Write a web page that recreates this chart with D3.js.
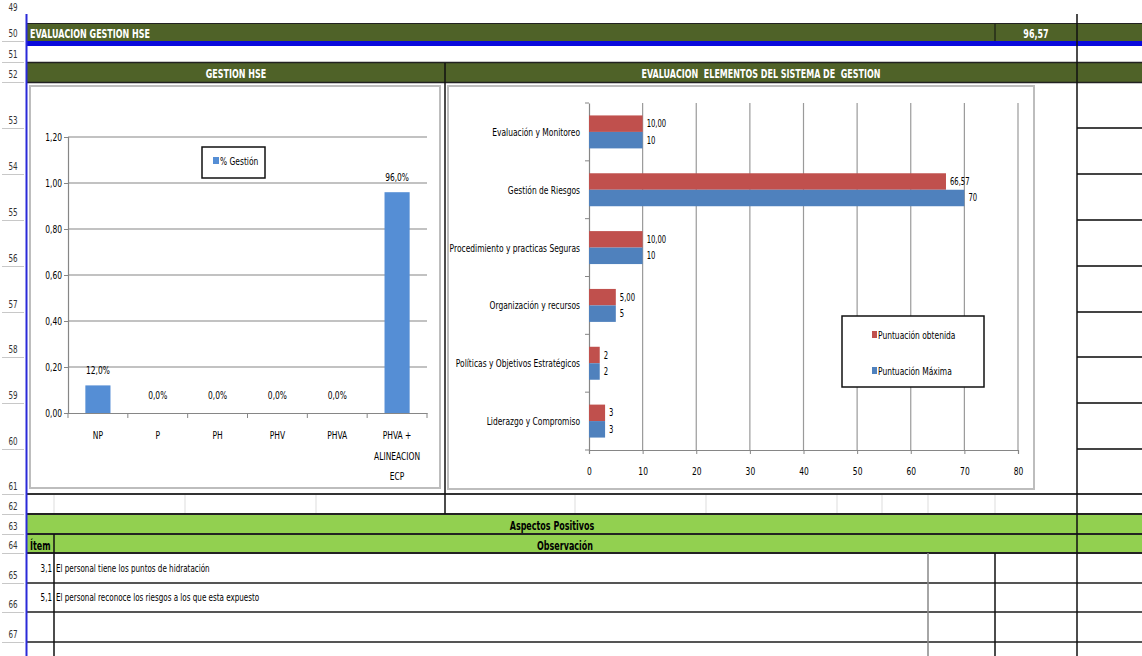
<!DOCTYPE html>
<html>
<head>
<meta charset="utf-8">
<script src="https://cdn.jsdelivr.net/npm/d3@7"></script>
<style>
  body { margin: 0; background: #fff; }
  svg text { font-family: "Liberation Sans Narrow", "DejaVu Sans Condensed", "Arial Narrow", sans-serif; white-space: pre; }
</style>
</head>
<body>
<svg id="sheet" width="1142" height="656"></svg>
<script>
// ---- data ----
var gestionCats = ["NP", "P", "PH", "PHV", "PHVA", "PHVA +\nALINEACION\nECP"];
var gestionPct = [0.12, 0, 0, 0, 0, 0.96];
var gestionTicks = [0, 0.2, 0.4, 0.6, 0.8, 1.0, 1.2];

var elemCats = ["Evaluación y Monitoreo", "Gestión de Riesgos", "Procedimiento y practicas Seguras",
  "Organización y recursos", "Políticas y Objetivos Estratégicos", "Liderazgo y Compromiso"];
var obtenida = [10, 66.57, 10, 5, 2, 3];
var obtenidaLbl = ["10,00", "66,57", "10,00", "5,00", "2", "3"];
var maxima = [10, 70, 10, 5, 2, 3];
var maximaLbl = ["10", "70", "10", "5", "2", "3"];
var elemTicks = [0, 10, 20, 30, 40, 50, 60, 70, 80];

var totalHSE = "96,57";
var itemNums = ["3,1", "5,1"];
var itemObs = ["El personal tiene los puntos de hidratación",
  "El personal reconoce los riesgos a los que esta expuesto"];

// ---- sheet layout ----
var rowNums = [49, 50, 51, 52, 53, 54, 55, 56, 57, 58, 59, 60, 61, 62, 63, 64, 65, 66, 67];
var rowBottoms = [15, 41, 62, 82, 128, 174, 220, 266, 312, 357, 403, 449, 494, 514, 534, 553, 583, 612, 642];

var darkGreen = "#4F6228", lightGreen = "#92D050";
var svg = d3.select("#sheet");

var comma = function(s){ return s.replace(".", ","); };

// squeeze text horizontally, the sheet font is a narrow one
var squeeze = function(sel, k){
  sel.each(function(){
    var spans = this.querySelectorAll("tspan");
    var nodes = spans.length ? Array.prototype.slice.call(spans) : [this];
    nodes.forEach(function(n){
      var w = n.getComputedTextLength();
      if (w > 0){
        n.setAttribute("textLength", w*k);
        n.setAttribute("lengthAdjust", "spacingAndGlyphs");
      }
    });
  });
};

// row headers
var rh = svg.append("g");
rh.selectAll("text").data(rowNums).enter().append("text")
  .attr("x", 13).attr("y", function(d,i){ return rowBottoms[i] - 4; })
  .attr("text-anchor", "middle").attr("font-size", 10.5).attr("fill", "#333")
  .text(function(d){ return d; });
rh.selectAll("line").data(rowBottoms.slice(1)).enter().append("line")
  .attr("x1", 2).attr("x2", 24).attr("y1", function(d){ return d + 0.5; }).attr("y2", function(d){ return d + 0.5; })
  .attr("stroke", "#c8c8c8");

// row 50 / row 52 bands
svg.append("rect").attr("x", 27).attr("y", 24).attr("width", 1115).attr("height", 17).attr("fill", darkGreen);
svg.append("line").attr("x1", 27).attr("x2", 1142).attr("y1", 23.5).attr("y2", 23.5).attr("stroke", "#222");
svg.append("rect").attr("x", 27).attr("y", 41).attr("width", 1115).attr("height", 5).attr("fill", "#0a0adc");
svg.append("line").attr("x1", 995).attr("x2", 995).attr("y1", 24).attr("y2", 41).attr("stroke", "#111");
svg.append("rect").attr("x", 27).attr("y", 63).attr("width", 1115).attr("height", 19).attr("fill", darkGreen);
svg.append("line").attr("x1", 27).attr("x2", 1142).attr("y1", 62.5).attr("y2", 62.5).attr("stroke", "#222").attr("stroke-width", 1.5);
svg.append("line").attr("x1", 27).attr("x2", 1142).attr("y1", 82.5).attr("y2", 82.5).attr("stroke", "#222").attr("stroke-width", 1.5);

var hdr = svg.append("g").attr("class", "hdr");
hdr.append("text").attr("x", 30).attr("y", 38).attr("fill", "#fff").attr("font-weight", "bold").attr("font-size", 13)
  .text("EVALUACION GESTION HSE");
hdr.append("text").attr("x", 1036).attr("y", 38).attr("fill", "#fff").attr("font-weight", "bold").attr("font-size", 13)
  .attr("text-anchor", "middle").text(totalHSE);
hdr.append("text").attr("x", 236).attr("y", 78).attr("fill", "#fff").attr("font-weight", "bold").attr("font-size", 13)
  .attr("text-anchor", "middle").text("GESTION HSE");
hdr.append("text").attr("x", 761).attr("y", 78).attr("fill", "#fff").attr("font-weight", "bold").attr("font-size", 13)
  .attr("text-anchor", "middle").text("EVALUACION  ELEMENTOS DEL SISTEMA DE  GESTION");

// right column row lines
svg.selectAll(".rline").data(rowBottoms.slice(4, 12)).enter().append("line")
  .attr("x1", 1077).attr("x2", 1142).attr("y1", function(d){ return d; }).attr("y2", function(d){ return d; })
  .attr("stroke", "#444").attr("stroke-width", 2);

// row 61/62 borders
svg.append("line").attr("x1", 27).attr("x2", 1142).attr("y1", 494).attr("y2", 494).attr("stroke", "#333").attr("stroke-width", 2);
svg.selectAll(".r62").data([54, 185, 316, 575, 706, 837, 882, 928, 995]).enter().append("line")
  .attr("x1", function(d){ return d; }).attr("x2", function(d){ return d; }).attr("y1", 495).attr("y2", 514)
  .attr("stroke", "#ddd");

// rows 63, 64
svg.append("rect").attr("x", 27).attr("y", 514).attr("width", 1115).attr("height", 39).attr("fill", lightGreen);
[514, 534, 553].forEach(function(y){
  svg.append("line").attr("x1", 27).attr("x2", 1142).attr("y1", y).attr("y2", y).attr("stroke", "#222").attr("stroke-width", 2);
});
var hdr2 = svg.append("g").attr("class", "hdr");
hdr2.append("text").attr("x", 552).attr("y", 530).attr("font-weight", "bold").attr("font-size", 13)
  .attr("text-anchor", "middle").text("Aspectos Positivos");
hdr2.append("text").attr("x", 30).attr("y", 550).attr("font-weight", "bold").attr("font-size", 13).text("Ítem");
hdr2.append("text").attr("x", 565).attr("y", 550).attr("font-weight", "bold").attr("font-size", 13)
  .attr("text-anchor", "middle").text("Observación");

// rows 65-67
[583, 612, 642].forEach(function(y){
  svg.append("line").attr("x1", 27).attr("x2", 1142).attr("y1", y).attr("y2", y).attr("stroke", "#555").attr("stroke-width", 2);
});
svg.append("line").attr("x1", 54).attr("x2", 54).attr("y1", 534).attr("y2", 656).attr("stroke", "#111").attr("stroke-width", 1.5);
svg.append("line").attr("x1", 928).attr("x2", 928).attr("y1", 553).attr("y2", 656).attr("stroke", "#888").attr("stroke-width", 1.5);
svg.append("line").attr("x1", 995).attr("x2", 995).attr("y1", 553).attr("y2", 656).attr("stroke", "#111").attr("stroke-width", 1.5);
var items = svg.append("g");
items.selectAll(".num").data(itemNums).enter().append("text")
  .attr("x", 52).attr("y", function(d,i){ return 572 + i*29; }).attr("text-anchor", "end").attr("font-size", 10.5)
  .text(function(d){ return d; });
items.selectAll(".obs").data(itemObs).enter().append("text")
  .attr("x", 56).attr("y", function(d,i){ return 572 + i*29; }).attr("font-size", 10.5)
  .text(function(d){ return d; });

// main vertical lines
svg.append("line").attr("x1", 1077).attr("x2", 1077).attr("y1", 14).attr("y2", 656).attr("stroke", "#111").attr("stroke-width", 1.5);
svg.append("line").attr("x1", 445).attr("x2", 445).attr("y1", 63).attr("y2", 514).attr("stroke", "#111").attr("stroke-width", 1.5);
svg.append("line").attr("x1", 26.5).attr("x2", 26.5).attr("y1", 14).attr("y2", 656).attr("stroke", "#2a2ad8").attr("stroke-width", 2);

// ---- chart 1: GESTION HSE ----
var c1 = svg.append("g");
c1.append("rect").attr("x", 30).attr("y", 86).attr("width", 410).attr("height", 402)
  .attr("fill", "#fff").attr("stroke", "#bdbdbd").attr("stroke-width", 2);

var x1 = d3.scaleBand().domain(gestionCats).range([68, 427]).paddingInner(0.58).paddingOuter(0.29);
var y1 = d3.scaleLinear().domain([0, 1.2]).range([413, 137]);

c1.selectAll(".grid").data(gestionTicks.slice(1)).enter().append("line")
  .attr("x1", 68).attr("x2", 427).attr("y1", function(d){ return y1(d); }).attr("y2", function(d){ return y1(d); })
  .attr("stroke", "#868686").attr("stroke-width", 1.2);

var yAxis1 = c1.append("g").attr("transform", "translate(68,0)")
  .call(d3.axisLeft(y1).tickValues(gestionTicks).tickSize(4).tickFormat(function(d){ return comma(d3.format(".2f")(d)); }));
var xAxis1 = c1.append("g").attr("transform", "translate(0,413)")
  .call(d3.axisBottom(x1).tickSize(0).tickFormat(""));
[yAxis1, xAxis1].forEach(function(a){
  a.select(".domain").attr("stroke", "#868686").attr("stroke-width", 1.2);
  a.selectAll(".tick line").attr("stroke", "#868686");
  a.selectAll("text").attr("font-size", 11).attr("fill", "#000")
    .style("font-family", "'Liberation Sans Narrow', 'DejaVu Sans Condensed', sans-serif");
});
yAxis1.selectAll(".tick text").attr("x", -6);

// category boundary ticks
c1.selectAll(".ctick").data(d3.range(gestionCats.length + 1)).enter().append("line")
  .attr("x1", function(i){ return 68 + i*x1.step(); }).attr("x2", function(i){ return 68 + i*x1.step(); })
  .attr("y1", 413).attr("y2", 418).attr("stroke", "#868686");

c1.selectAll(".clbl").data(gestionCats).enter().append("text")
  .attr("x", function(d){ return x1(d) + x1.bandwidth()/2; }).attr("y", 439)
  .attr("text-anchor", "middle").attr("font-size", 11)
  .each(function(d){
    var t = d3.select(this);
    d.split("\n").forEach(function(s, k){
      t.append("tspan").attr("x", t.attr("x")).attr("dy", k ? 20.5 : 0).text(s);
    });
  });

c1.selectAll(".bar").data(gestionPct).enter().append("rect")
  .attr("x", function(d,i){ return x1(gestionCats[i]); }).attr("width", x1.bandwidth())
  .attr("y", function(d){ return y1(d); }).attr("height", function(d){ return y1(0) - y1(d); })
  .attr("fill", "#558ED5");
c1.selectAll(".blbl").data(gestionPct).enter().append("text")
  .attr("x", function(d,i){ return x1(gestionCats[i]) + x1.bandwidth()/2; })
  .attr("y", function(d){ return y1(d) - (d > 0 ? 11 : 14); })
  .attr("text-anchor", "middle").attr("font-size", 11)
  .text(function(d){ return comma(d3.format(".1%")(d)); });

// legend 1
c1.append("rect").attr("x", 202).attr("y", 147).attr("width", 63).attr("height", 31)
  .attr("fill", "#fff").attr("stroke", "#111").attr("stroke-width", 1.5);
c1.append("rect").attr("x", 213).attr("y", 157).attr("width", 6).attr("height", 7).attr("fill", "#558ED5");
c1.append("text").attr("x", 220).attr("y", 165).attr("font-size", 11).text("% Gestión");

// ---- chart 2: EVALUACION ELEMENTOS ----
var c2 = svg.append("g");
c2.append("rect").attr("x", 448).attr("y", 86).attr("width", 586).attr("height", 403)
  .attr("fill", "#fff").attr("stroke", "#bdbdbd").attr("stroke-width", 2);

var x2 = d3.scaleLinear().domain([0, 80]).range([589, 1018]);
var y2 = d3.scaleBand().domain(elemCats).range([103, 450]).paddingInner(0.43).paddingOuter(0.215);
var ySub = d3.scaleBand().domain(["obt", "max"]).range([0, y2.bandwidth()]);

c2.selectAll(".grid").data(elemTicks.slice(1)).enter().append("line")
  .attr("x1", function(d){ return x2(d); }).attr("x2", function(d){ return x2(d); })
  .attr("y1", 103).attr("y2", 450).attr("stroke", "#9a9a9a").attr("stroke-width", 1.2);

var xAxis2 = c2.append("g").attr("transform", "translate(0,450)")
  .call(d3.axisBottom(x2).tickValues(elemTicks).tickSize(4));
var yAxis2 = c2.append("g").attr("transform", "translate(589,0)")
  .call(d3.axisLeft(y2).tickSize(0).tickFormat(""));
[xAxis2, yAxis2].forEach(function(a){
  a.select(".domain").attr("stroke", "#868686").attr("stroke-width", 1.2);
  a.selectAll(".tick line").attr("stroke", "#868686");
  a.selectAll("text").attr("font-size", 11).attr("fill", "#000")
    .style("font-family", "'Liberation Sans Narrow', 'DejaVu Sans Condensed', sans-serif");
});
xAxis2.selectAll(".tick text").attr("y", 17);

c2.selectAll(".ctick").data(d3.range(elemCats.length + 1)).enter().append("line")
  .attr("x1", 585).attr("x2", 589)
  .attr("y1", function(i){ return 103 + i*y2.step(); }).attr("y2", function(i){ return 103 + i*y2.step(); })
  .attr("stroke", "#868686");

c2.selectAll(".clbl").data(elemCats).enter().append("text")
  .attr("x", 580).attr("y", function(d){ return y2(d) + y2.bandwidth()/2 + 4; })
  .attr("text-anchor", "end").attr("font-size", 11).text(function(d){ return d; });

var series = [
  { key: "obt", vals: obtenida, lbls: obtenidaLbl, color: "#C0504D" },
  { key: "max", vals: maxima, lbls: maximaLbl, color: "#4F81BD" }
];
series.forEach(function(s){
  c2.selectAll(".bar-" + s.key).data(s.vals).enter().append("rect")
    .attr("x", x2(0)).attr("y", function(d,i){ return y2(elemCats[i]) + ySub(s.key); })
    .attr("width", function(d){ return x2(d) - x2(0); }).attr("height", ySub.bandwidth())
    .attr("fill", s.color);
  c2.selectAll(".lbl-" + s.key).data(s.vals).enter().append("text")
    .attr("x", function(d){ return x2(d) + 4; })
    .attr("y", function(d,i){ return y2(elemCats[i]) + ySub(s.key) + ySub.bandwidth()/2 + 3.5; })
    .attr("font-size", 10).text(function(d,i){ return s.lbls[i]; });
});

// legend 2
c2.append("rect").attr("x", 842).attr("y", 316).attr("width", 142).attr("height", 71)
  .attr("fill", "#fff").attr("stroke", "#111").attr("stroke-width", 1.5);
series.forEach(function(s, k){
  var ly = 335 + k*36;
  c2.append("rect").attr("x", 872).attr("y", ly - 4).attr("width", 5).attr("height", 7).attr("fill", s.color);
  c2.append("text").attr("x", 878).attr("y", ly + 4).attr("font-size", 11)
    .text(k == 0 ? "Puntuación obtenida" : "Puntuación Máxima");
});

// narrow everything down like the sheet's font
squeeze(svg.selectAll("text"), 0.76);
squeeze(svg.selectAll(".hdr text"), 0.9);
</script>
</body>
</html>
